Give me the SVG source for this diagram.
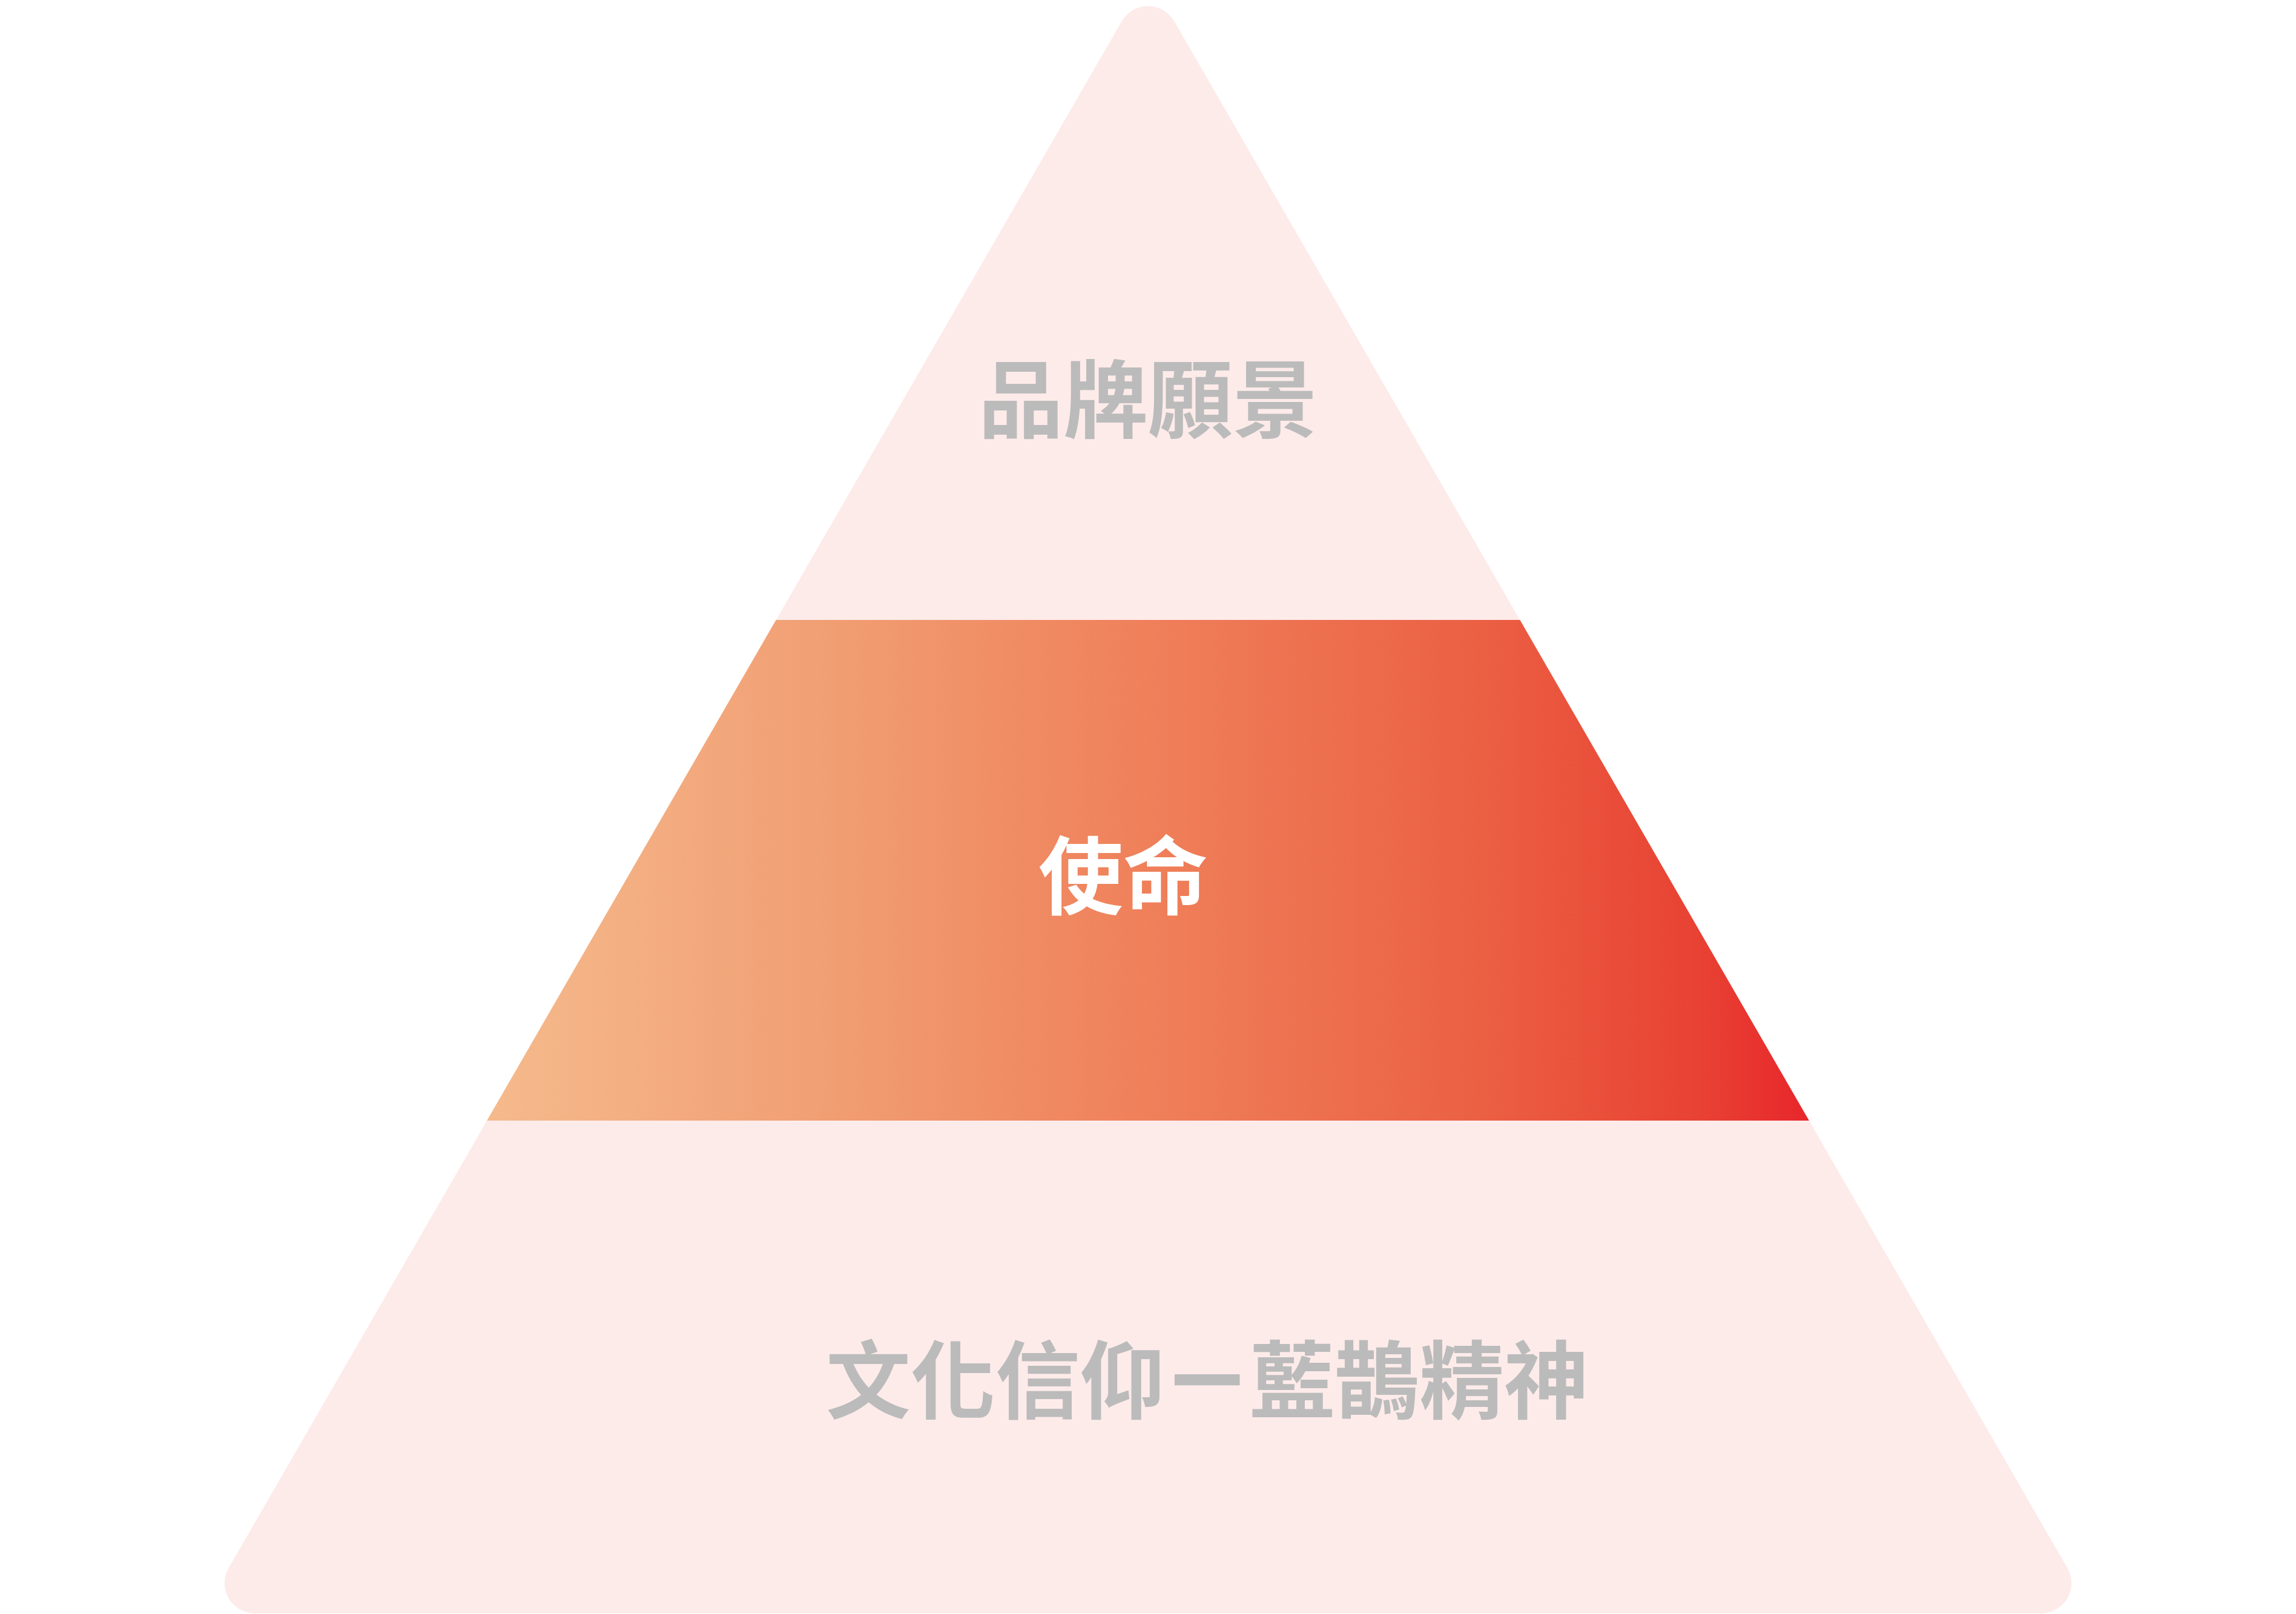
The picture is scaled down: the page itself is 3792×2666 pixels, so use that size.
<svg xmlns="http://www.w3.org/2000/svg" width="3792" height="2666" viewBox="0 0 3792 2666">
<defs>
<linearGradient id="bandGrad" gradientUnits="userSpaceOnUse" x1="804" y1="0" x2="2988" y2="0">
<stop offset="0" stop-color="#F5BA8C"/>
<stop offset="0.25" stop-color="#F19F74"/>
<stop offset="0.5" stop-color="#EF805A"/>
<stop offset="0.75" stop-color="#EB6043"/>
<stop offset="0.92" stop-color="#E84133"/>
<stop offset="1" stop-color="#E8262B"/>
</linearGradient>
<style>
.layer-text{font-family:"Noto Sans CJK TC","Noto Sans CJK SC",sans-serif;font-weight:700;font-size:140px;text-anchor:middle}
.grey{fill:#BBBBBB}
.white{fill:#FFFFFF}
</style>
</defs>
<rect x="0" y="0" width="3792" height="2666" fill="#FFFFFF"/>
<g id="pyramid">
<path d="M 1852.7 35 A 50 50 0 0 1 1939.3 35 L 3414.4 2590 A 50 50 0 0 1 3371.1 2665 L 420.9 2665 A 50 50 0 0 1 377.6 2590 Z" fill="#FDEBEA"/>
</g>
<g id="layer-vision">
<text class="layer-text grey" x="1896" y="712">品牌願景</text>
</g>
<g id="layer-mission">
<polygon points="1281.7,1024 2510.3,1024 2987.8,1851 804.2,1851" fill="url(#bandGrad)"/>
<text class="layer-text white" x="1855" y="1499">使命</text>
</g>
<g id="layer-culture">
<text class="layer-text grey" x="1994" y="2332">文化信仰ㄧ藍鵲精神</text>
</g>
<g id="connectors"/>
</svg>
